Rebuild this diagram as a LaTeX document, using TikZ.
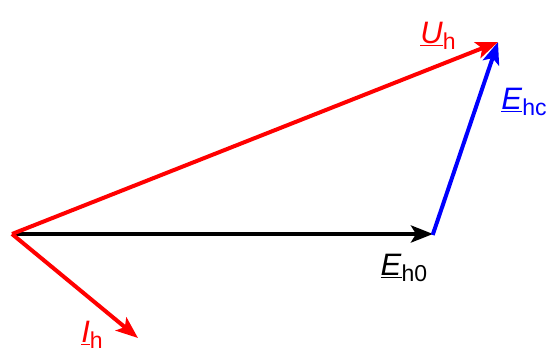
\documentclass[tikz,border=0pt]{standalone}
\usepackage{fontspec}
\setmainfont{Liberation Sans}
\usetikzlibrary{arrows.meta}
\tikzset{
  vec/.style={line width=4pt,-{Stealth[length=22pt,width=17pt,inset=5pt]}},
  lbl/.style={inner sep=0pt,font=\fontsize{31}{31}\selectfont},
}
\newcommand{\phasor}[2]{\underline{\textit{#1}}\raisebox{-6pt}{\fontsize{23}{23}\selectfont #2}}
\begin{document}
\begin{tikzpicture}[x=1pt,y=-1pt]
\useasboundingbox (0,0) rectangle (550,353);
\coordinate (O) at (12,234);
\coordinate (A) at (433,234);
\coordinate (B) at (498,42);
\coordinate (C) at (138,338);
\draw[vec,black] (O) -- (A);
\draw[vec,blue,shorten <=-1pt] (A) -- (B);
\draw[vec,red] (O) -- (B);
\draw[vec,red] (O) -- (C);
\node[lbl,red] (lu) at (438,36) {\phasor{U}{h}};
\node[lbl,blue] (le) at (524,102) {\phasor{E}{hc}};
\node[lbl,black] (l0) at (404,268) {\phasor{E}{h0}};
\node[lbl,red] (li) at (92,335) {\phasor{I}{h}};
\end{tikzpicture}
\end{document}
